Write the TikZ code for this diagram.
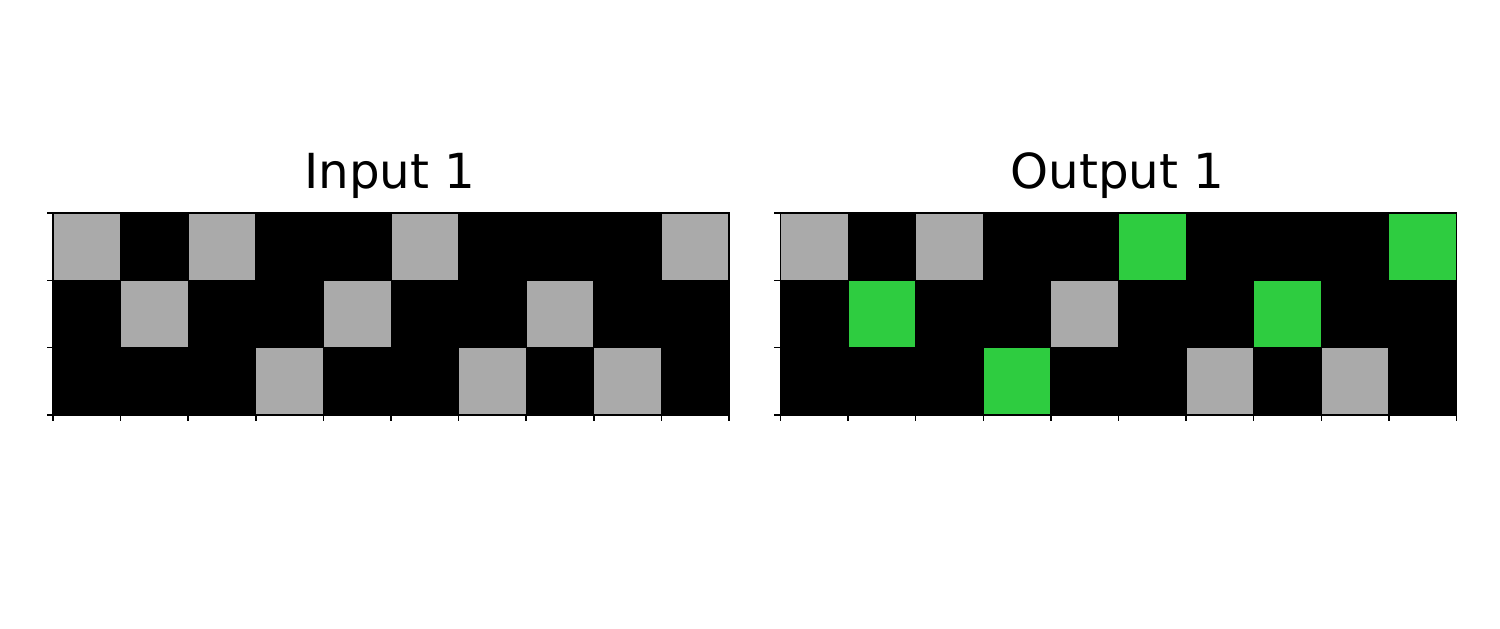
\documentclass[tikz,border=0pt]{standalone}
\usepackage{fontspec}
\setmainfont{DejaVu Sans}
\definecolor{arcgray}{HTML}{AAAAAA}
\definecolor{arcgreen}{HTML}{2ECC40}
\tikzset{
  cell/.style={draw=black,line width=0.9pt},
  axtick/.style={line width=1.5pt},
  frame/.style={draw=black,line width=1.1pt},
  gridtitle/.style={anchor=base,font=\fontsize{48.3}{55}\selectfont}
}

\begin{document}
\begin{tikzpicture}[x=1pt,y=-1pt]
\useasboundingbox (0,0) rectangle (1500,629);
\node[gridtitle] (intitle) at (390,188) {Input 1};
\node[gridtitle] (outtitle) at (1117.5,188) {Output 1};
\begin{scope}[shift={(53,213)},x=67.6pt,y=-67.33pt]
  \fill[black] (0,0) rectangle (10,3);
  \foreach \c/\r in {0/0,2/0,5/0,9/0,1/1,4/1,7/1,3/2,6/2,8/2}
    \filldraw[cell,fill=arcgray] (\c,\r) rectangle ++(1,1);
  \draw[frame] (0,0) rectangle (10,3);
  \foreach \c in {0,...,10}
    \draw[axtick] (\c,3) -- ++(0,0.09);
  \foreach \r in {0,...,3}
    \draw[axtick] (0,\r) -- ++(-0.09,0);
\end{scope}
\begin{scope}[shift={(780.5,213)},x=67.6pt,y=-67.33pt]
  \fill[black] (0,0) rectangle (10,3);
  \foreach \c/\r/\col in {0/0/arcgray,2/0/arcgray,5/0/arcgreen,9/0/arcgreen,
      1/1/arcgreen,4/1/arcgray,7/1/arcgreen,
      3/2/arcgreen,6/2/arcgray,8/2/arcgray}
    \filldraw[cell,fill=\col] (\c,\r) rectangle ++(1,1);
  \draw[frame] (0,0) rectangle (10,3);
  \foreach \c in {0,...,10}
    \draw[axtick] (\c,3) -- ++(0,0.09);
  \foreach \r in {0,...,3}
    \draw[axtick] (0,\r) -- ++(-0.09,0);
\end{scope}
\end{tikzpicture}
\end{document}
